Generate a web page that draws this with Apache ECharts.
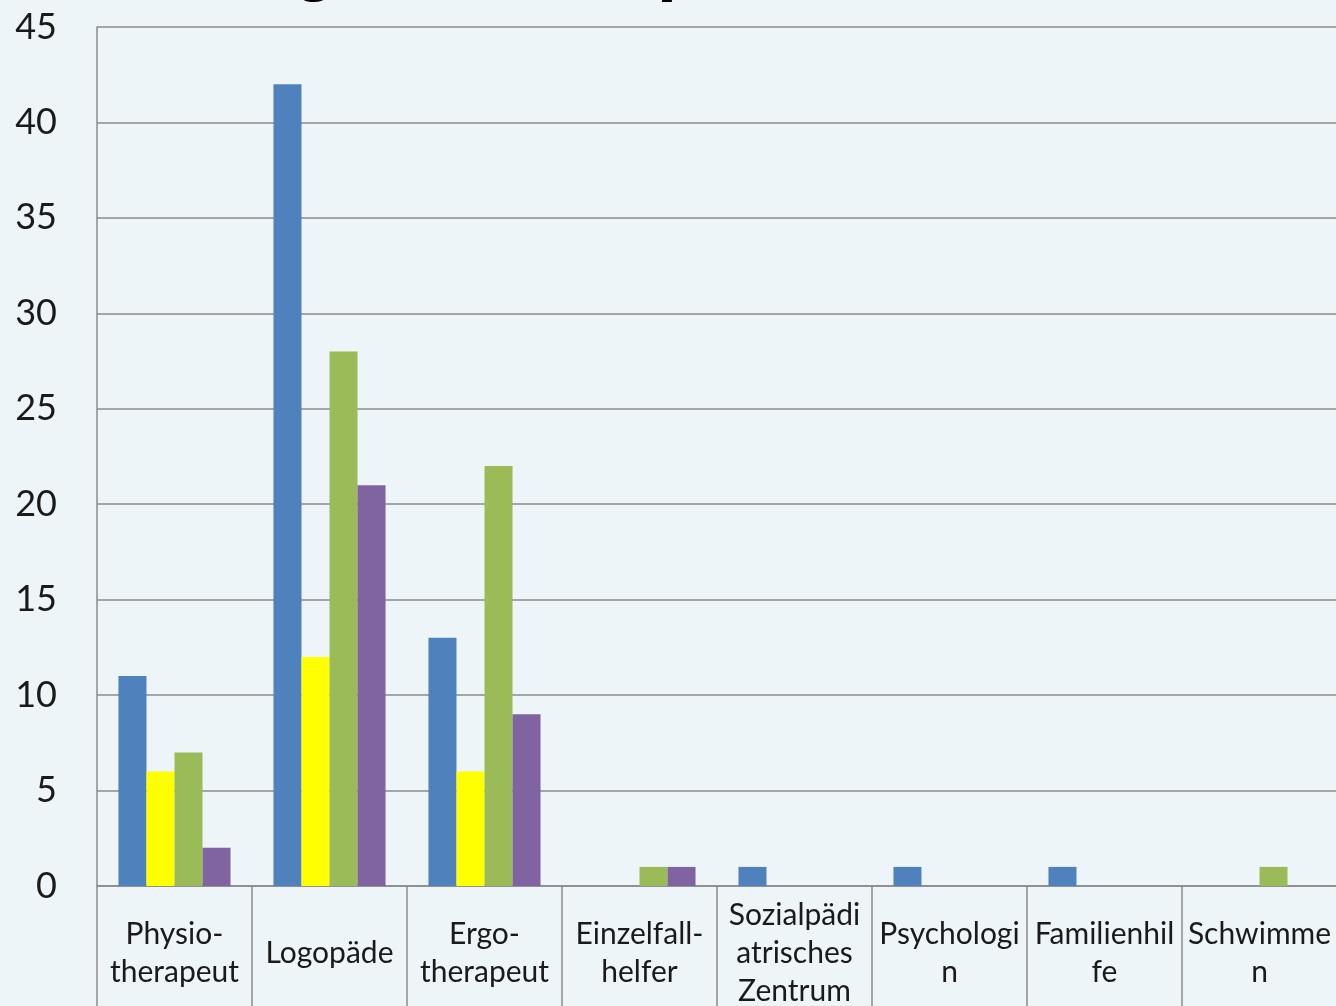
<!DOCTYPE html>
<html>
<head>
<meta charset="utf-8">
<script src="https://cdn.jsdelivr.net/npm/echarts@6/dist/echarts.min.js"></script>
<style>
html,body{margin:0;padding:0;background:#EDF5F9;}
#chart{width:1336px;height:1006px;}
</style>
</head>
<body>
<div id="chart"></div>
<script>
const titleText = 'Nennungen, Therapeuten';
const categories = ['Physio-\ntherapeut', 'Logopäde', 'Ergo-\ntherapeut', 'Einzelfall-\nhelfer', 'Sozialpädi\natrisches\nZentrum', 'Psychologi\nn', 'Familienhil\nfe', 'Schwimme\nn'];
const seriesBlue = [11, 42, 13, 0, 1, 1, 1, 0];
const seriesYellow = [6, 12, 6, 0, 0, 0, 0, 0];
const seriesGreen = [7, 28, 22, 1, 0, 0, 0, 1];
const seriesPurple = [2, 21, 9, 1, 0, 0, 0, 0];
const yTicks = [0, 5, 10, 15, 20, 25, 30, 35, 40, 45];

const colors = ['#4F81BD', '#FFFF00', '#9BBB59', '#8064A2'];
const font = 'Lato, "Open Sans", sans-serif';
const chart = echarts.init(document.getElementById('chart'), null, {renderer: 'canvas'});
const mk = (data, i) => ({
  type: 'bar', data: data, barGap: '0%', barCategoryGap: '27.7%',
  itemStyle: {color: colors[i]}, emphasis: {disabled: true}
});
chart.setOption({
  backgroundColor: '#EDF5F9',
  animation: false,
  title: {
    text: titleText, left: 20, top: -74,
    textStyle: {fontFamily: 'Liberation Sans, sans-serif', fontSize: 72, fontWeight: 'bold', color: '#000'}
  },
  grid: {left: 97, top: 27, width: 1240, bottom: 120, containLabel: false, outerBoundsMode: 'none'},
  xAxis: {
    type: 'category', data: categories,
    axisLine: {lineStyle: {color: '#8a8a8a', width: 1.5}},
    axisTick: {show: true, length: 130, alignWithLabel: false, lineStyle: {color: '#8a8a8a', width: 1.5}},
    axisLabel: {
      interval: 0, margin: 67, verticalAlign: 'middle', lineHeight: 38,
      fontFamily: font, fontSize: 30, color: '#1a1a1a', align: 'center'
    }
  },
  yAxis: {
    type: 'value', min: yTicks[0], max: yTicks[yTicks.length - 1], interval: 5,
    axisLine: {show: true, lineStyle: {color: '#8a8a8a', width: 1.5}},
    axisTick: {show: false},
    splitLine: {lineStyle: {color: '#8a8a8a', width: 1.5}},
    axisLabel: {margin: 40, fontFamily: font, fontSize: 36, color: '#1a1a1a'}
  },
  series: [mk(seriesBlue, 0), mk(seriesYellow, 1), mk(seriesGreen, 2), mk(seriesPurple, 3)]
});
</script>
</body>
</html>
